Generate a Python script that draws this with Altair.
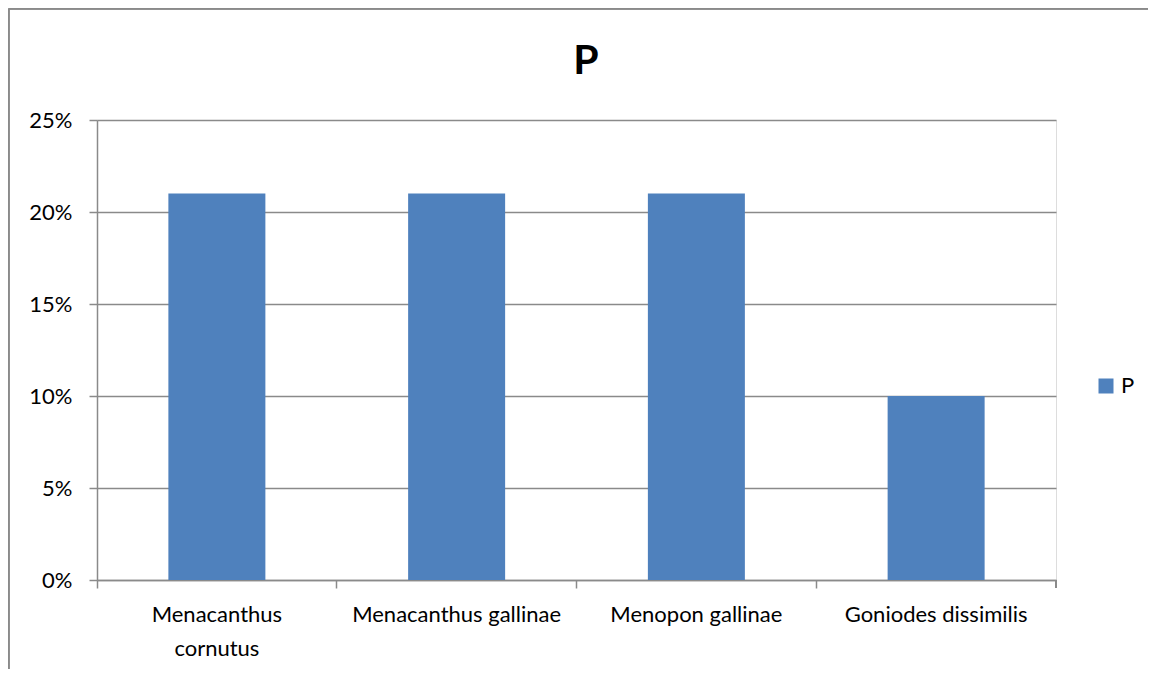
import altair as alt
import pandas as pd

categories = ["Menacanthus cornutus", "Menacanthus gallinae", "Menopon gallinae", "Goniodes dissimilis"]
values = [0.21, 0.21, 0.21, 0.10]
series = ["P", "P", "P", "P"]
title_text = "P"

df = pd.DataFrame({"species": categories, "value": values, "series": series})
title_df = pd.DataFrame({"t": [title_text]})

FONT = "Lato"
GRAY = "#8a8a8a"
W, H = 959, 460
PL, PT, PR, PB = 89, 112, 92, 89

bars = alt.Chart(df).mark_bar(size=97).encode(
    x=alt.X("species:N", sort=categories, title=None,
            scale=alt.Scale(paddingInner=0.0, paddingOuter=0.0),
            axis=alt.Axis(labelAngle=0, bandPosition=0, labelFontSize=22, labelFont=FONT,
                          labelColor="black", labelPadding=16, tickSize=8, tickColor=GRAY,
                          domainColor=GRAY, domainWidth=1.5, tickWidth=1.5, grid=False,
                          labelLineHeight=34, labelLimit=400, labelBaseline="top",
                          labelExpr="datum.label == 'Menacanthus cornutus' ? ['Menacanthus', 'cornutus'] : datum.label")),
    y=alt.Y("value:Q", title=None,
            scale=alt.Scale(domain=[0, 0.25], nice=False),
            axis=alt.Axis(format=".0%", values=[0, 0.05, 0.10, 0.15, 0.20, 0.25],
                          labelFontSize=22, labelFont=FONT, labelColor="black",
                          labelPadding=17, tickSize=8, tickColor=GRAY, tickWidth=1.5,
                          domainColor=GRAY, domainWidth=1.5,
                          grid=True, gridColor=GRAY, gridWidth=1.5)),
    color=alt.Color("series:N", title=None,
                    scale=alt.Scale(domain=["P"], range=["#4F81BD"]),
                    legend=alt.Legend(orient="none", legendX=998, legendY=255,
                                      symbolType="square", symbolSize=225, symbolStrokeWidth=0,
                                      labelFontSize=22, labelFont=FONT, labelColor="black",
                                      labelOffset=4)),
)

title = alt.Chart(title_df).mark_text(font=FONT, fontSize=41, fontWeight="bold", color="black",
                                      align="center", baseline="alphabetic").encode(
    text="t:N", x=alt.value(489), y=alt.value(-46)
)

end_tick = alt.Chart(df).mark_rule(color=GRAY, strokeWidth=1.5).encode(
    x=alt.value(W), y=alt.value(H), y2=alt.value(H + 8)
)

border_left = alt.Chart(df).mark_rule(color=GRAY, strokeWidth=1.5).encode(
    x=alt.value(-PL + 0.75), y=alt.value(-PT + 0.75), y2=alt.value(H + PB)
)
border_top = alt.Chart(df).mark_rule(color=GRAY, strokeWidth=1.5).encode(
    x=alt.value(-PL + 0.75), x2=alt.value(W + PR), y=alt.value(-PT + 0.75)
)

chart = alt.layer(bars, title, end_tick, border_left, border_top).properties(
    width=W, height=H,
    autosize=alt.AutoSizeParams(type="none"),
    padding={"left": PL, "top": PT, "right": PR, "bottom": PB},
).configure_view(stroke=None).configure(background="white")

chart.save("out.html", embed_options={"renderer": "svg", "actions": False})
